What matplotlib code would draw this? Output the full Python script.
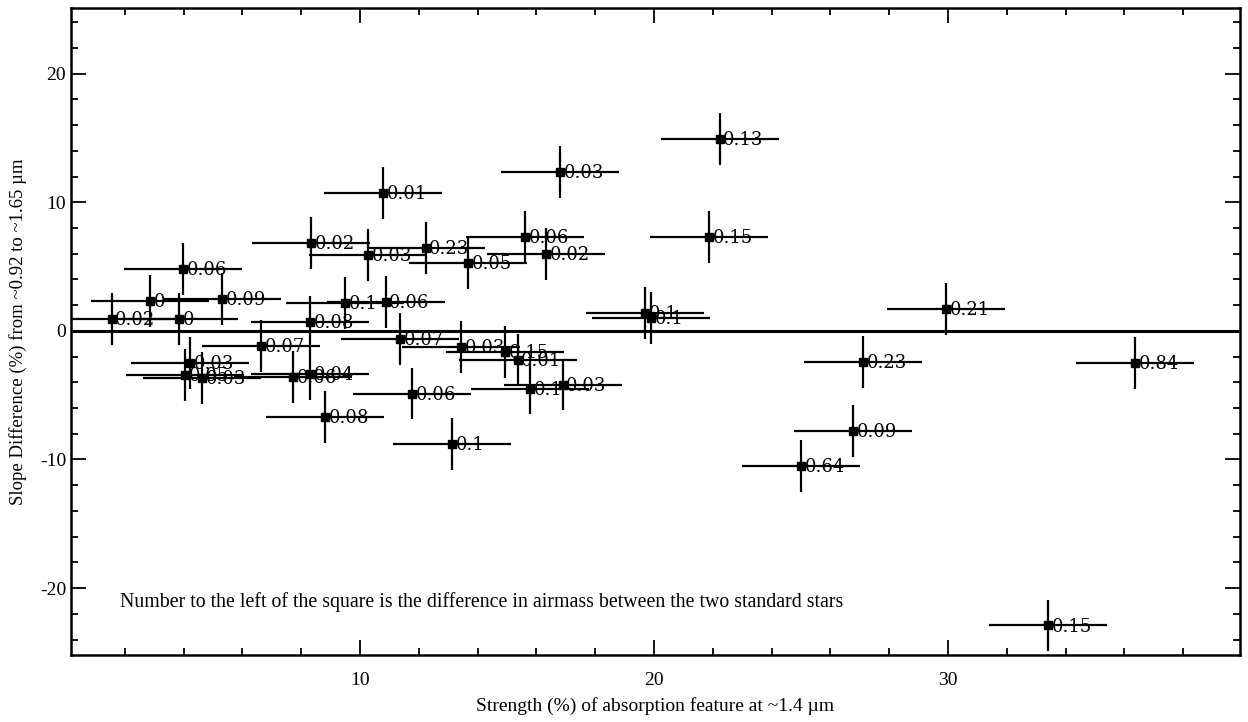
import matplotlib
matplotlib.use("Agg")
import matplotlib.pyplot as plt
from matplotlib.ticker import MultipleLocator

plt.rcParams['font.family'] = ['Liberation Serif', 'DejaVu Serif']
plt.rcParams['axes.unicode_minus'] = False

# Data
strength = [22.24, 16.80, 10.78, 8.33, 10.27, 12.24, 13.67, 15.61, 16.33, 21.87,
            3.98, 2.86, 5.31, 1.56, 3.84, 9.49, 10.88, 8.30, 19.69, 19.90,
            29.93, 6.63, 11.36, 13.44, 14.93, 15.37, 4.22, 4.05, 4.63, 7.72,
            8.30, 8.81, 11.77, 13.13, 15.78, 16.90, 27.11, 36.36, 26.77, 25.00,
            33.40]
slope_diff = [14.91, 12.35, 10.72, 6.83, 5.90, 6.45, 5.28, 7.30, 5.98, 7.30,
              4.82, 2.33, 2.49, 0.93, 0.93, 2.17, 2.25, 0.70, 1.40, 1.01,
              1.71, -1.17, -0.62, -1.24, -1.63, -2.25, -2.49, -3.42, -3.65, -3.57,
              -3.34, -6.68, -4.89, -8.78, -4.50, -4.19, -2.41, -2.49, -7.77, -10.49,
              -22.90]
airmass_labels = ["0.13", "0.03", "0.01", "0.02", "0.03", "0.23", "0.05", "0.06", "0.02", "0.15",
                  "0.06", "0", "0.09", "0.02", "0", "0.1", "0.06", "0.08", "0.1", "0.1",
                  "0.21", "0.07", "0.07", "0.03", "0.15", "0.01", "0.03", "0.05", "0.03", "0.06",
                  "0.04", "0.08", "0.06", "0.1", "0.1", "0.03", "0.23", "0.84", "0.09", "0.64",
                  "0.15"]
x_err = [2.0] * len(strength)
y_err = [2.0] * len(strength)

note = "Number to the left of the square is the difference in airmass between the two standard stars"

fig = plt.figure(figsize=(12.48, 7.22), dpi=100)
ax = fig.add_axes([71/1248, 1-655/722, (1240-71)/1248, (655-8)/722])

ax.errorbar(strength, slope_diff, xerr=x_err, yerr=y_err, fmt='s', color='black',
            ms=6, elinewidth=1.6, capsize=0, zorder=3)
for xv, yv, lab in zip(strength, slope_diff, airmass_labels):
    ax.annotate(lab, (xv, yv), xytext=(2.5, -1), textcoords='offset points',
                ha='left', va='center', fontsize=13, family='DejaVu Serif',
                color='black', zorder=4)

ax.axhline(0, color='black', lw=2.2, zorder=2)

ax.text(1.84, -21.1, note, fontsize=14.3, ha='left', va='center')

ax.set_xlim(0.17, 39.93)
ax.set_ylim(-25.2, 25.1)
ax.xaxis.set_major_locator(MultipleLocator(10))
ax.xaxis.set_minor_locator(MultipleLocator(2))
ax.yaxis.set_major_locator(MultipleLocator(10))
ax.yaxis.set_minor_locator(MultipleLocator(2))
ax.tick_params(which='both', direction='in', top=True, right=True, width=1.3,
               labelsize=14)
ax.tick_params(which='major', length=11)
ax.tick_params(which='minor', length=5)
ax.tick_params(axis='x', pad=12)
for s in ax.spines.values():
    s.set_linewidth(1.8)

ax.set_xlabel("Strength (%) of absorption feature at ~1.4 µm", fontsize=14, labelpad=6)
ax.set_ylabel("Slope Difference (%) from ~0.92 to ~1.65 µm", fontsize=13.5, labelpad=9)

fig.savefig("out.png", dpi=100)
